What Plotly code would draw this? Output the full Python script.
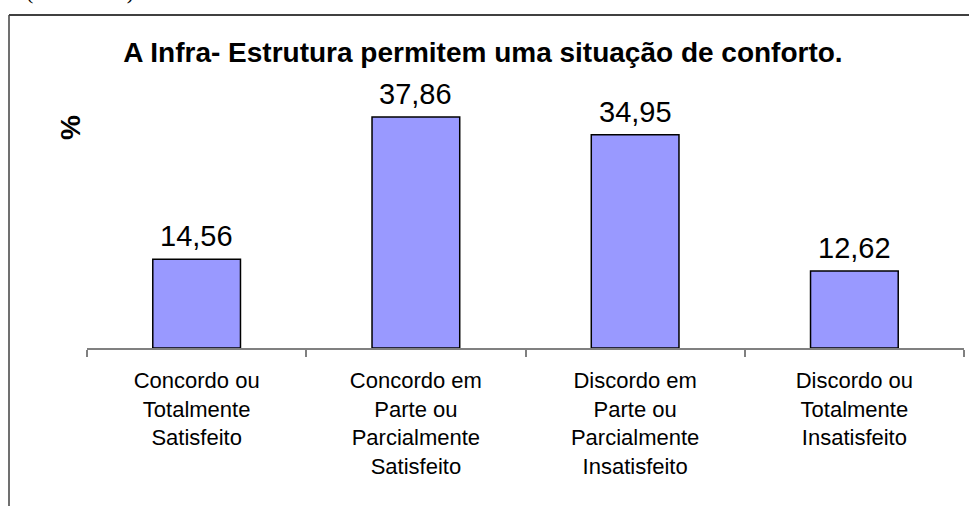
import plotly.graph_objects as go

categories = [
    "Concordo ou<br>Totalmente<br>Satisfeito",
    "Concordo em<br>Parte ou<br>Parcialmente<br>Satisfeito",
    "Discordo em<br>Parte ou<br>Parcialmente<br>Insatisfeito",
    "Discordo ou<br>Totalmente<br>Insatisfeito",
]
values = [14.56, 37.86, 34.95, 12.62]
value_labels = [f"{v:.2f}".replace(".", ",") for v in values]
title_text = "A Infra- Estrutura permitem uma situação de conforto."

W, H = 969, 506
L, R, T, B = 87, 5, 104, 158
pw, ph = W - L - R, H - T - B

def px(x):
    return (x - L) / pw

def py(y):
    return (H - B - y) / ph

FONT = "Liberation Sans, Arial"

fig = go.Figure(
    go.Bar(
        x=categories,
        y=values,
        marker=dict(color="#9999FF", line=dict(color="black", width=1.5)),
        width=0.4,
        hoverinfo="skip",
    )
)

for c, v, t in zip(categories, values, value_labels):
    fig.add_annotation(
        x=c, y=v, text=t, showarrow=False,
        xanchor="center", yanchor="bottom", yshift=5,
        font=dict(family=FONT, size=29, color="black"),
    )

fig.update_layout(
    width=W,
    height=H,
    margin=dict(l=L, r=R, t=T, b=B),
    paper_bgcolor="white",
    plot_bgcolor="white",
    showlegend=False,
    font=dict(family=FONT, color="black"),
    title=dict(
        text="<b>" + title_text + "</b>",
        x=483 / W,
        xanchor="center",
        y=1 - 52 / H,
        yanchor="middle",
        font=dict(size=28, family=FONT, color="black"),
    ),
    xaxis=dict(
        showline=True,
        linecolor="#808080",
        linewidth=1.5,
        ticks="outside",
        tickson="boundaries",
        ticklen=7,
        tickcolor="#808080",
        tickwidth=1.5,
        ticklabelstandoff=12,
        tickfont=dict(size=22, family=FONT, color="black"),
        showgrid=False,
    ),
    yaxis=dict(
        range=[0, 40],
        visible=False,
        showgrid=False,
        zeroline=False,
    ),
    bargap=0.6,
)

fig.add_annotation(
    text="<b>%</b>",
    xref="paper",
    yref="paper",
    x=px(70),
    y=py(128),
    textangle=-90,
    showarrow=False,
    font=dict(size=28, family=FONT, color="black"),
    xanchor="center",
    yanchor="middle",
)

# frame lines
fig.add_shape(type="line", xref="paper", yref="paper",
              x0=px(9), x1=px(969), y0=py(15), y1=py(15),
              line=dict(color="#404040", width=2))
fig.add_shape(type="line", xref="paper", yref="paper",
              x0=px(9), x1=px(9), y0=py(15), y1=py(506),
              line=dict(color="#404040", width=1.5))

# partially visible text above the frame
fig.add_annotation(
    text="(                 )",
    xref="paper", yref="paper",
    x=px(80), y=py(-9),
    showarrow=False,
    font=dict(size=22, family="Liberation Serif, Times New Roman", color="black"),
    xanchor="center", yanchor="middle",
)

fig.write_html(
    "out.html",
    config={"displayModeBar": False},
    post_script="document.body.style.margin='0';document.body.style.overflow='hidden';",
)
